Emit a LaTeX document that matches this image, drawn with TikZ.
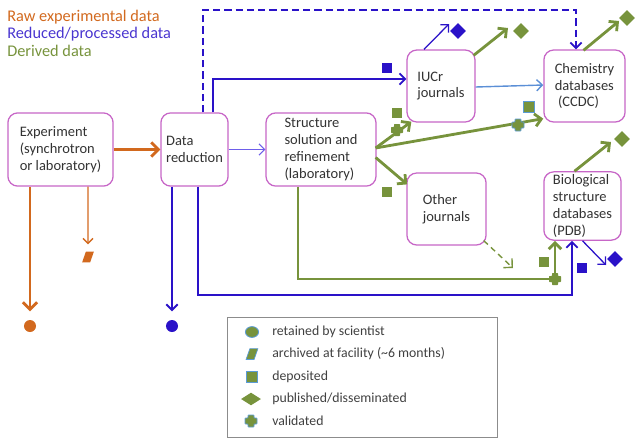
\documentclass[tikz,border=0pt]{standalone}
\usepackage{fontspec}
\setmainfont{Carlito}
\usepackage{tikz}
\usetikzlibrary{arrows.meta, positioning, shapes.geometric, calc}
\definecolor{rawor}{HTML}{D2691E}
\definecolor{redblue}{HTML}{2A12C8}
\definecolor{thinblue}{HTML}{6E5EEA}
\definecolor{dergreen}{HTML}{77933C}
\definecolor{boxpink}{HTML}{C766C7}
\definecolor{linkblue}{HTML}{5B8FD6}
\definecolor{markedge}{HTML}{5B9BD5}

\tikzset{
  stage/.style={draw=boxpink, line width=0.9pt, fill=white, rounded corners=7pt, align=left,
    font=\fontsize{10.3}{12}\selectfont, text=black!80, inner sep=2pt},
  keytext/.style={anchor=west, inner sep=0pt, font=\fontsize{11.6}{13}\selectfont},
  legtext/.style={anchor=west, inner sep=0pt, text=black!75, font=\fontsize{9.8}{11}\selectfont},
  rawbig/.style={draw=rawor, line width=2pt, -{Straight Barb[length=5pt, width=10pt]}},
  rawthin/.style={draw=rawor, line width=1pt, -{Straight Barb[length=3.5pt, width=7pt]}},
  redflow/.style={draw=redblue, line width=1.3pt, -{Straight Barb[length=4pt, width=8pt]}},
  thinflow/.style={draw=thinblue, line width=0.8pt, -{Straight Barb[length=4pt, width=8pt]}},
  linkflow/.style={draw=linkblue, line width=1pt, -{Straight Barb[length=4pt, width=8pt]}},
  derflow/.style={draw=dergreen, line width=2pt, -{Straight Barb[length=4.5pt, width=9pt]}},
  dotmark/.style={circle, inner sep=0pt, minimum size=0.3cm},
  sqmark/.style={rectangle, inner sep=0pt, minimum size=0.27cm},
  dmdmark/.style={diamond, inner sep=0pt, minimum width=0.4cm, minimum height=0.4cm},
  parmark/.style={rectangle, xslant=0.35, inner sep=0pt, minimum width=0.2cm, minimum height=0.27cm},
  valmark/.pic={\path[pic actions, rounded corners=0.5pt]
    (-6,-3) -- (-3,-3) -- (-3,-6) -- (3,-6) -- (3,-3) -- (6,-3) -- (6,3) -- (3,3)
    -- (3,6) -- (-3,6) -- (-3,3) -- (-6,3) -- cycle;}
}

\begin{document}
\begin{tikzpicture}[x=0.025cm, y=-0.025cm]
    \useasboundingbox (0,0) rectangle (640,443);

    % Key
    \node[keytext, text=rawor] (keyraw) at (7,17) {Raw experimental data};
    \node[keytext, text=redblue!85] (keyred) at (7,34) {Reduced/processed data};
    \node[keytext, text=dergreen] (keyder) at (7,51) {Derived data};

    % Stages
    \node[stage, minimum width=2.63cm, minimum height=1.83cm] (exp) at (60.5,149.5) {Experiment\\(synchrotron\\or laboratory)};
    \node[stage, minimum width=1.68cm, minimum height=1.83cm] (red) at (194.5,149.5) {Data\\reduction};
    \node[stage, minimum width=2.75cm, minimum height=1.83cm] (sol) at (321,149.5) {Structure\\solution and\\refinement\\(laboratory)};
    \node[stage, minimum width=1.70cm, minimum height=1.80cm] (iucr) at (441,86) {IUCr\\journals};
    \node[stage, minimum width=2.03cm, minimum height=1.80cm] (chem) at (584.5,86) {Chemistry\\databases\\\ (CCDC)};
    \node[stage, minimum width=1.98cm, minimum height=1.80cm] (other) at (446.5,209) {Other\\journals};
    \node[stage, minimum width=1.93cm, minimum height=1.70cm] (bio) at (582.5,206) {Biological\\structure\\databases\\(PDB)};

    % Markers
    \node[dotmark, fill=rawor] (rawdot) at (30,326) {};
    \node[parmark, fill=rawor] (rawarch) at (88,257) {};
    \node[dotmark, fill=redblue] (reddot) at (172,326) {};
    \node[sqmark, fill=redblue] (redsq) at (387,68) {};
    \node[dmdmark, fill=redblue] (reddmdA) at (458,31) {};
    \node[dmdmark, fill=redblue] (reddmdB) at (615,259) {};
    \node[sqmark, fill=redblue] (redsqB) at (582,268) {};
    \node[dmdmark, fill=dergreen] (derdmdA) at (521,31) {};
    \node[dmdmark, fill=dergreen] (derdmdB) at (627,18) {};
    \node[dmdmark, fill=dergreen] (derdmdC) at (622,139) {};
    \node[sqmark, fill=dergreen] (dersqA) at (397,113) {};
    \node[sqmark, fill=dergreen, draw=markedge, line width=0.5pt] (dersqB) at (529,107) {};
    \node[sqmark, fill=dergreen] (dersqC) at (387,192) {};
    \node[sqmark, fill=dergreen] (dersqD) at (544,262) {};

    % Free ends
    \coordinate (redlow) at (572,295);
    \coordinate (dashtop) at (576,10);
    \coordinate (derlow) at (555,279);
    \coordinate (tipA) at (449,24);
    \coordinate (tipB) at (508,28);
    \coordinate (tipC) at (619,21);
    \coordinate (tipD) at (611,142);
    \coordinate (tipE) at (606,265);
    \coordinate (tipF) at (513,268);

    % Raw data
    \draw[rawbig] (exp.east) -- (red.west);
    \draw[rawbig, shorten >=6pt] (exp.south -| rawdot) -- (rawdot);
    \draw[rawthin, shorten >=5pt] (exp.south -| rawarch) -- (rawarch);

    % Reduced data
    \draw[redflow, shorten >=6pt] (red.south -| reddot) -- (reddot);
    \draw[redflow] ($(red.south)+(3.5,0)$) |- (redlow) -- (redlow |- bio.south);
    \draw[redflow] ($(red.north)+(18.5,0)$) |- ($(iucr.west)+(0,-7)$);
    \draw[redflow, dash pattern=on 5pt off 3pt] ($(red.north)+(8.5,0)$) |- (dashtop) -- (dashtop |- chem.north);
    \draw[thinflow] (red.east) -- (sol.west);
    \draw[redflow, line width=0.9pt] ($(iucr.north)+(-17,0)$) -- (tipA);
    \draw[redflow, line width=0.9pt] (bio.south) -- (tipE);
    \draw[linkflow] ($(iucr.east)+(0,1)$) -- ($(chem.west)+(0,-1)$);

    % Derived data
    \draw[derflow] ($(sol.east)+(-1,-1.5)$) -- ($(iucr.south west)+(5,-1)$);
    \draw[derflow] ($(sol.east)+(-1,-1.5)$) -- ($(chem.south west)+(0,-4)$);
    \draw[derflow] ($(sol.east)+(-1,8)$) -- ($(other.north west)+(1,12)$);
    \draw[derflow] ($(sol.south)+(-23,0)$) |- (derlow) -- (derlow |- bio.south);
    \draw[derflow, dash pattern=on 4pt off 3pt, line width=1pt] ($(other.south east)+(-3,-5)$) -- (tipF);
    \draw[derflow] ($(iucr.north east)+(-2,6)$) -- (tipB);
    \draw[derflow] ($(chem.north)+(-1,1)$) -- (tipC);
    \draw[derflow] ($(bio.north)+(-8,0)$) -- (tipD);
    \pic[fill=dergreen] at (397,130) {valmark};
    \pic[fill=dergreen, draw=markedge, line width=0.5pt] at (518,125) {valmark};
    \pic[fill=dergreen] at (derlow) {valmark};

    % Legend
    \node[draw=black!45, line width=0.6pt, minimum width=6.73cm, minimum height=2.98cm] (legend) at (362.5,377.5) {};
    \node[dotmark, minimum width=0.33cm, minimum height=0.27cm, ellipse, fill=dergreen, draw=markedge, line width=0.6pt] (legdot) at (252,332) {};
    \node[parmark, fill=dergreen, draw=markedge, line width=0.5pt] (legarch) at (252,354) {};
    \node[sqmark, fill=dergreen, draw=markedge, line width=0.5pt] (legsq) at (252,377) {};
    \node[dmdmark, minimum width=0.5cm, minimum height=0.32cm, fill=dergreen] (legdmd) at (251,399) {};
    \pic[fill=dergreen, draw=markedge, line width=0.5pt] at (251,421) {valmark};
    \node[legtext] (legtxtA) at (272,332) {retained by scientist};
    \node[legtext] (legtxtB) at (272,354) {archived at facility (\textasciitilde 6 months)};
    \node[legtext] (legtxtC) at (272,377) {deposited};
    \node[legtext] (legtxtD) at (272,399) {published/disseminated};
    \node[legtext] (legtxtE) at (272,421) {validated};
\end{tikzpicture}
\end{document}
